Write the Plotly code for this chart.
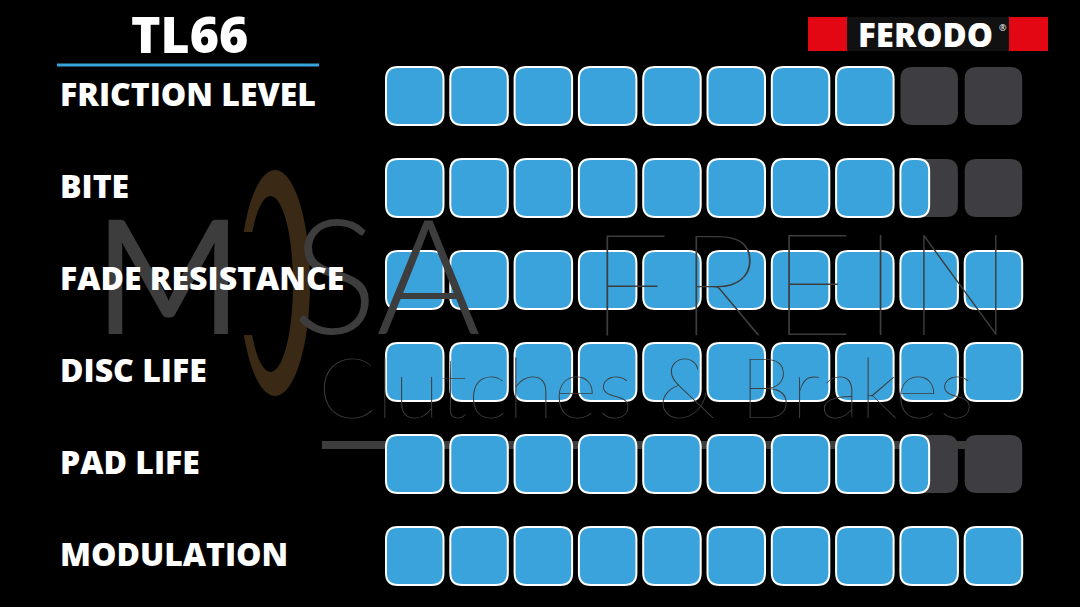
import plotly.graph_objects as go

# ---- data ----
categories = ["FRICTION LEVEL", "BITE", "FADE RESISTANCE", "DISC LIFE", "PAD LIFE", "MODULATION"]
scores = [8, 8.5, 10, 10, 8.5, 10]
max_score = 10
title_text = "TL66"
brand_text = "FERODO"

# ---- style ----
BG = "#000000"
BLUE = "#3aa3db"
DARK = "#3e3d42"
WM = "#3d3d3d"
BROWN = "#3a2914"
W, H = 1080, 607
x0_px, pitch_x = 386, 64.3
y0_px, pitch_y = 96, 92.0
sq_w = 57.5 / pitch_x
sq_h = 58 / pitch_y
rx = 12 / pitch_x
ry = 12 / pitch_y


def rrect(xa, xb, ya, yb, rx_, ry_):
    rx_ = min(rx_, (xb - xa) / 2)
    return (f"M {xa+rx_},{ya} L {xb-rx_},{ya} Q {xb},{ya} {xb},{ya+ry_} "
            f"L {xb},{yb-ry_} Q {xb},{yb} {xb-rx_},{yb} L {xa+rx_},{yb} "
            f"Q {xa},{yb} {xa},{yb-ry_} L {xa},{ya+ry_} Q {xa},{ya} {xa+rx_},{ya} Z")


def px(x):
    return x / W


def py(y):
    return 1 - y / H


fig = go.Figure()
fig.add_trace(go.Scatter(x=[0], y=[0], mode="markers", marker=dict(opacity=0), hoverinfo="skip", showlegend=False))

shapes = []
annotations = []

# ---- watermark (behind) ----
shapes.append(dict(type="circle", xref="paper", yref="paper", layer="below",
                   x0=px(240), x1=px(310), y0=py(396), y1=py(170),
                   fillcolor=BROWN, line=dict(width=0)))
shapes.append(dict(type="circle", xref="paper", yref="paper", layer="below",
                   x0=px(248), x1=px(293), y0=py(372), y1=py(196),
                   fillcolor=BG, line=dict(width=0)))
shapes.append(dict(type="rect", xref="paper", yref="paper", layer="below",
                   x0=px(236), x1=px(262), y0=py(335), y1=py(232),
                   fillcolor=BG, line=dict(width=0)))
shapes.append(dict(type="rect", xref="paper", yref="paper", layer="below",
                   x0=px(322), x1=px(1000), y0=py(449), y1=py(441),
                   fillcolor=WM, line=dict(width=0)))
annotations.append(dict(text="M", xref="paper", yref="paper", x=px(92), y=py(272),
                        xanchor="left", yanchor="middle", showarrow=False,
                        font=dict(family="Lato", size=160, color=WM, weight=400)))
annotations.append(dict(text="SA", xref="paper", yref="paper", x=px(290), y=py(272),
                        xanchor="left", yanchor="middle", showarrow=False,
                        font=dict(family="Lato", size=160, color=WM, weight=300)))
annotations.append(dict(text="F\u200aR\u200aE\u200aI\u200aN", xref="paper", yref="paper", x=px(588), y=py(280),
                        xanchor="left", yanchor="middle", showarrow=False,
                        font=dict(family="Lato", size=142, color=WM, weight=100)))
annotations.append(dict(text="Clutches &amp; Brakes", xref="paper", yref="paper", x=px(316), y=py(385),
                        xanchor="left", yanchor="middle", showarrow=False,
                        font=dict(family="Lato", size=85, color=WM, weight=100)))

# ---- bars ----
for i, (cat, val) in enumerate(zip(categories, scores)):
    ya, yb = i - sq_h / 2, i + sq_h / 2
    for j in range(max_score):
        xa, xb = j, j + sq_w
        frac = max(0.0, min(1.0, val - j))
        if frac < 1:
            shapes.append(dict(type="path", xref="x", yref="y", path=rrect(xa, xb, ya, yb, rx, ry),
                               fillcolor=DARK, line=dict(width=0)))
        if frac > 0:
            xe = xa + sq_w * frac if frac < 1 else xb
            shapes.append(dict(type="path", xref="x", yref="y", path=rrect(xa, xe, ya, yb, rx, ry),
                               fillcolor=BLUE, line=dict(color="white", width=2)))
    annotations.append(dict(text=cat, xref="paper", yref="y", x=px(58), y=i - 0.03,
                            xanchor="left", yanchor="middle", showarrow=False,
                            font=dict(family="Open Sans", size=32, color="white", weight=800)))

# ---- title ----
annotations.append(dict(text=title_text, xref="paper", yref="paper", x=px(189), y=py(34),
                        xanchor="center", yanchor="middle", showarrow=False,
                        font=dict(family="Open Sans", size=50, color="white", weight=800)))
shapes.append(dict(type="line", xref="paper", yref="paper", x0=px(57), x1=px(319),
                   y0=py(65), y1=py(65), line=dict(color=BLUE, width=3)))

# ---- brand logo ----
shapes.append(dict(type="rect", xref="paper", yref="paper", x0=px(808), x1=px(847),
                   y0=py(51), y1=py(17), fillcolor="#e30613", line=dict(width=0)))
shapes.append(dict(type="rect", xref="paper", yref="paper", x0=px(1009), x1=px(1048),
                   y0=py(51), y1=py(17), fillcolor="#e30613", line=dict(width=0)))
shapes.append(dict(type="rect", xref="paper", yref="paper", x0=px(847), x1=px(1009),
                   y0=py(51), y1=py(17), fillcolor="#111111", line=dict(width=0)))
annotations.append(dict(text=brand_text, xref="paper", yref="paper", x=px(925), y=py(34),
                        xanchor="center", yanchor="middle", showarrow=False,
                        font=dict(family="Open Sans", size=33, color="white", weight=800)))
annotations.append(dict(text="®", xref="paper", yref="paper", x=px(1003), y=py(27),
                        xanchor="center", yanchor="middle", showarrow=False,
                        font=dict(family="Open Sans", size=9, color="white")))

x_lo = (0 - x0_px) / pitch_x
x_hi = (W - x0_px) / pitch_x
y_lo = (0 - y0_px) / pitch_y
y_hi = (H - y0_px) / pitch_y

fig.update_layout(
    width=W, height=H, margin=dict(l=0, r=0, t=0, b=0),
    paper_bgcolor=BG, plot_bgcolor=BG, showlegend=False,
    xaxis=dict(range=[x_lo, x_hi], visible=False, fixedrange=True),
    yaxis=dict(range=[y_hi, y_lo], visible=False, fixedrange=True),
    shapes=shapes, annotations=annotations,
)

fig.write_html("out.html", config={"displayModeBar": False},
               post_script="document.body.style.margin='0';document.body.style.background='#000';")
